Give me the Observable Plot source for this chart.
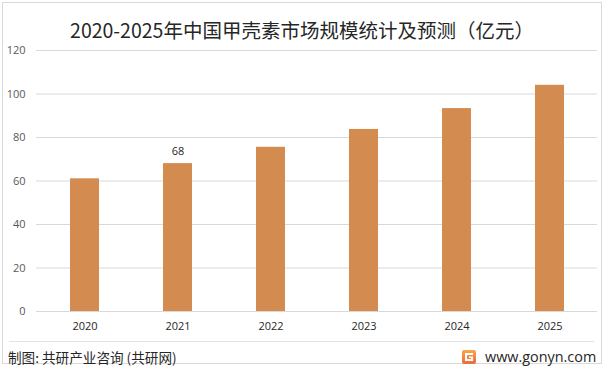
<!DOCTYPE html>
<html><head><meta charset="utf-8">
<script src="https://cdn.jsdelivr.net/npm/d3@7"></script>
<script src="https://cdn.jsdelivr.net/npm/@observablehq/plot@0.6"></script>
<style>
html,body{margin:0;padding:0;background:#fff;}
#wrap{position:relative;width:612px;height:370px;overflow:hidden;font-family:"Noto Sans CJK SC","Noto Sans",sans-serif;}
#frame{position:absolute;left:2px;top:2px;width:600px;height:362px;border:1px solid #d9d9d9;box-sizing:border-box;}
#title{position:absolute;left:0;top:17px;width:604px;text-align:center;font-size:19.5px;color:#262626;line-height:26px;}
#chart{position:absolute;left:0;top:40px;}
#rule{position:absolute;left:9px;top:341px;width:585px;height:1px;background:#e3e3e3;}
#src{position:absolute;left:8px;top:347px;font-size:13.6px;color:#262626;line-height:20px;}
#site{position:absolute;left:462px;top:347px;font-size:14.4px;color:#262626;line-height:20px;font-family:"Open Sans","Noto Sans",sans-serif;display:flex;align-items:center;gap:9px;}
</style></head>
<body><div id="wrap">
<div id="frame"></div>
<div id="title">2020-2025年中国甲壳素市场规模统计及预测（亿元）</div>
<div id="chart"></div>
<div id="rule"></div>
<div id="src">制图: 共研产业咨询 (共研网)</div>
<div id="site"><svg width="14" height="14" viewBox="0 0 14 14"><defs><linearGradient id="lg" x1="0" y1="0" x2="0" y2="1"><stop offset="0" stop-color="#f7a64a"/><stop offset="1" stop-color="#ef6a3a"/></linearGradient></defs><rect x="0" y="0" width="14" height="14" rx="2" fill="url(#lg)"/><path d="M3 3h8v2H5v4h4V8H7V6.5h4V11H3z" fill="#fff"/></svg><span>www.gonyn.com</span></div>
</div>
<script>
const years = ["2020","2021","2022","2023","2024","2025"];
const values = [61, 68, 75.5, 83.7, 93.3, 104];
const labelYears = ["2021"];
const labelValues = [68];
const yTicks = [0,20,40,60,80,100,120];

const data = years.map((y,i)=>({year:y, value:values[i]}));
const labels = labelYears.map((y,i)=>({year:y, value:labelValues[i]}));

const chart = Plot.plot({
  width: 612,
  height: 300,
  marginTop: 10,
  marginBottom: 29,
  marginLeft: 36,
  marginRight: 15,
  style: {fontFamily: "'Open Sans','Noto Sans',sans-serif", fontSize: "11px", background: "transparent", overflow: "visible"},
  x: {domain: years, paddingInner: 0.69, paddingOuter: 0.345, label: null, tickSize: 0, tickPadding: 11},
  y: {domain: [0,120], ticks: yTicks, label: null, tickSize: 0, tickPadding: 11},
  marks: [
    Plot.gridY(yTicks, {stroke: "#d9d9d9", strokeOpacity: 1}),
    Plot.barY(data, {x: "year", y: "value", fill: "#d48b4f"}),
    Plot.axisY({ticks: yTicks, tickSize: 0, tickPadding: 11, fill: "#595959", label: null}),
    Plot.axisX({tickSize: 0, tickPadding: 11, fill: "#262626", label: null}),
    Plot.text(labels, {x: "year", y: "value", text: d => String(d.value), dy: -12, fill: "#262626", fontSize: 11})
  ]
});
document.getElementById("chart").appendChild(chart);
</script>
</body></html>
